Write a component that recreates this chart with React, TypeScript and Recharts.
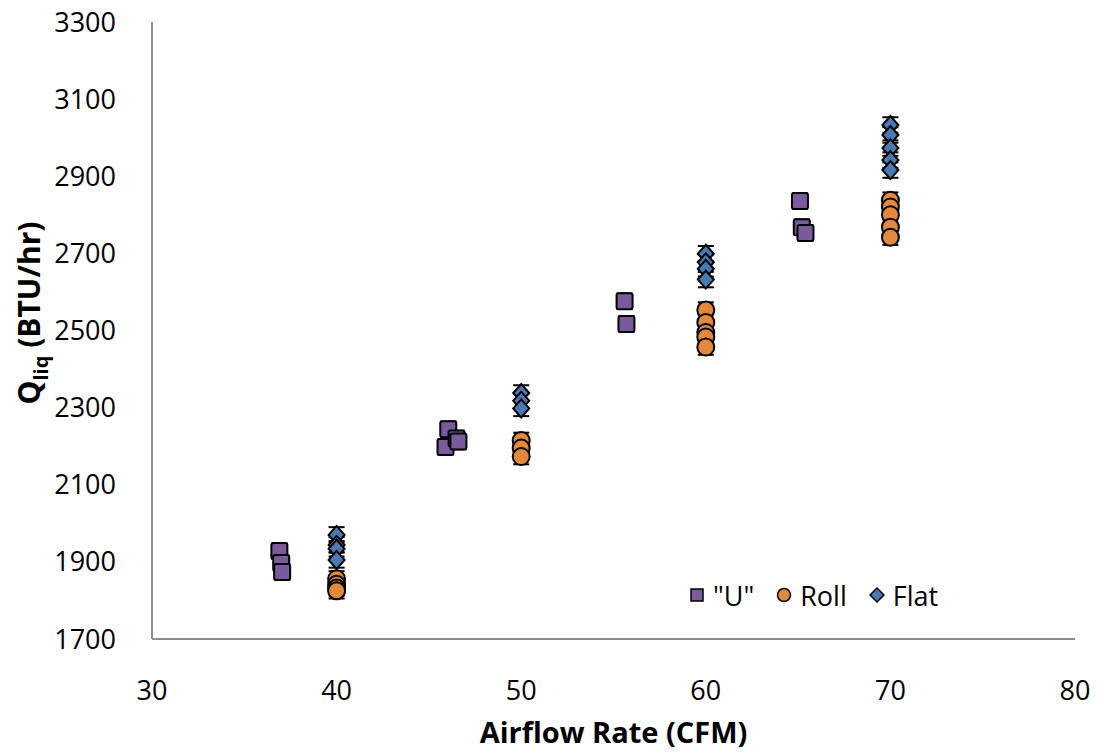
import { ScatterChart, Scatter, XAxis, YAxis, ErrorBar } from 'recharts'

// Airflow rate (CFM) and Q_liq (BTU/hr) readings
const uAirflow = [36.9, 37.0, 37.05, 46.05, 45.9, 46.5, 46.6, 55.6, 55.7, 65.1, 65.2, 65.4]
const uQ = [1928, 1897, 1874, 2244, 2198, 2220, 2212, 2576, 2517, 2836, 2768, 2753]

const rollAirflow = [40, 40, 40, 40, 50, 50, 50, 60, 60, 60, 60, 60, 70, 70, 70, 70, 70]
const rollQ = [1856, 1842, 1832, 1825, 2215, 2195, 2173, 2553, 2521, 2495, 2483, 2457, 2838, 2820, 2800, 2768, 2742]

const flatAirflow = [40, 40, 40, 40, 50, 50, 50, 60, 60, 60, 60, 70, 70, 70, 70, 70]
const flatQ = [1970, 1944, 1934, 1905, 2338, 2318, 2298, 2699, 2677, 2660, 2632, 3033, 3007, 2973, 2942, 2916]

const xTicks = [30, 40, 50, 60, 70, 80]
const yTicks = [1700, 1900, 2100, 2300, 2500, 2700, 2900, 3100, 3300]

const ERR = 20

const toRows = (xs: number[], ys: number[]) => xs.map((x, i) => ({ x, y: ys[i], err: ERR }))

const uData = toRows(uAirflow, uQ)
const rollData = toRows(rollAirflow, rollQ)
const flatData = toRows(flatAirflow, flatQ)

const PURPLE = '#7a5b9c'
const ORANGE = '#e2893c'
const BLUE = '#4a7ab6'
const FONT = '"Open Sans", sans-serif'

const Square = (p: any) => <rect x={p.cx - 8} y={p.cy - 8} width={16} height={16} rx={2} fill={PURPLE} stroke="#000" strokeWidth={2} />
const Circle = (p: any) => <circle cx={p.cx} cy={p.cy} r={8.5} fill={ORANGE} stroke="#000" strokeWidth={2} />
const Diamond = (p: any) => (
  <polygon points={`${p.cx},${p.cy - 9} ${p.cx + 8},${p.cy} ${p.cx},${p.cy + 9} ${p.cx - 8},${p.cy}`} fill={BLUE} stroke="#000" strokeWidth={2} />
)

function LegendBox() {
  const item = (mark: any, text: string) => (
    <span style={{ display: 'inline-flex', alignItems: 'center', marginRight: 22 }}>
      <svg width={16} height={16} style={{ marginRight: 8 }}>{mark}</svg>
      <span>{text}</span>
    </span>
  )
  return (
    <div style={{ position: 'absolute', left: 689, top: 574, fontFamily: FONT, fontSize: 27, color: '#000', whiteSpace: 'nowrap' }}>
      {item(<rect x={2} y={2} width={12} height={12} fill={PURPLE} stroke="#000" strokeWidth={1.5} />, '"U"')}
      {item(<circle cx={8} cy={8} r={6.5} fill={ORANGE} stroke="#000" strokeWidth={1.5} />, 'Roll')}
      {item(<polygon points="8,1 15,8 8,15 1,8" fill={BLUE} stroke="#000" strokeWidth={1.5} />, 'Flat')}
    </div>
  )
}

const YTitle = () => (
  <text transform="translate(40,313) rotate(-90)" textAnchor="middle" fontFamily={FONT} fontWeight="bold" fontSize={30} fill="#000">
    Q<tspan fontSize={20} dy={8}>liq</tspan>
    <tspan dy={-8}> (BTU/hr)</tspan>
  </text>
)

export default function App() {
  return (
    <div style={{ position: 'absolute', left: 0, top: 0, width: 1100, height: 752, background: '#fff' }}>
      <ScatterChart width={1100} height={752} margin={{ top: 22, right: 25, bottom: 0, left: 0 }}>
        <XAxis
          type="number"
          dataKey="x"
          domain={[30, 80]}
          ticks={xTicks}
          height={113}
          tickLine={false}
          axisLine={{ stroke: '#8c8c8c', strokeWidth: 2 }}
          tick={{ fill: '#000', fontSize: 27, fontFamily: FONT }}
          tickMargin={36}
          label={{ value: 'Airflow Rate (CFM)', position: 'insideBottom', offset: 9, fill: '#000', fontSize: 29, fontWeight: 'bold', fontFamily: FONT }}
        />
        <YAxis
          type="number"
          dataKey="y"
          domain={[1700, 3300]}
          ticks={yTicks}
          width={152}
          tickLine={false}
          axisLine={{ stroke: '#8c8c8c', strokeWidth: 2 }}
          tick={{ fill: '#000', fontSize: 27, fontFamily: FONT }}
          tickMargin={30}
          label={<YTitle />}
        />
        <Scatter name='"U"' data={uData} shape={Square} isAnimationActive={false}>
          <ErrorBar dataKey="err" direction="y" width={8} stroke="#000" strokeWidth={2} />
        </Scatter>
        <Scatter name="Roll" data={rollData} shape={Circle} isAnimationActive={false}>
          <ErrorBar dataKey="err" direction="y" width={8} stroke="#000" strokeWidth={2} />
        </Scatter>
        <Scatter name="Flat" data={flatData} shape={Diamond} isAnimationActive={false}>
          <ErrorBar dataKey="err" direction="y" width={8} stroke="#000" strokeWidth={2} />
        </Scatter>
      </ScatterChart>
      <LegendBox />
    </div>
  )
}
